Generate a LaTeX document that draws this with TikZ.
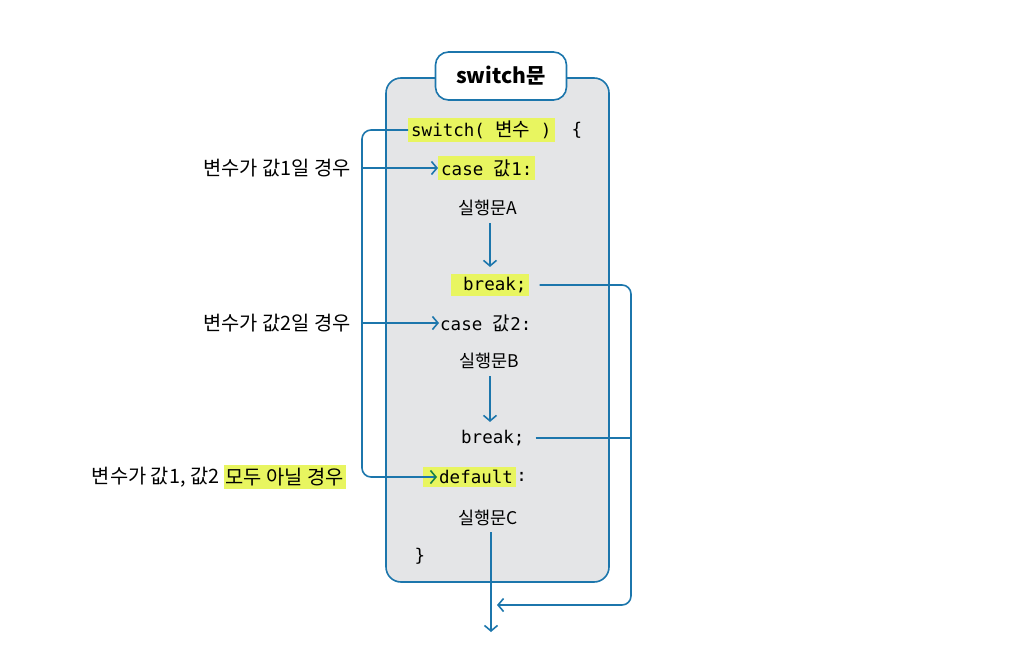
\documentclass[tikz,border=0pt]{standalone}
\usepackage{fontspec}
\setmonofont{DejaVu Sans Mono}
\newfontfamily\kr{Noto Sans CJK KR}
\usetikzlibrary{arrows.meta,positioning}
\definecolor{SwitchBlue}{RGB}{28,118,172}
\definecolor{SwitchPanel}{RGB}{228,229,231}
\definecolor{SwitchMark}{RGB}{232,245,96}
\definecolor{SwitchGreen}{RGB}{24,128,70}
\newcommand\krc[1]{{\fontsize{19}{20}\selectfont\kr #1}}

\begin{document}
\begin{tikzpicture}[x=1pt,y=-1pt,
  conn/.style={SwitchBlue,line width=1.6pt,rounded corners=9pt},
  tip/.style={-{Straight Barb[length=5.5pt,width=13pt,line width=1.6pt]}},
  code/.style={font=\fontsize{17.5}{20}\selectfont\ttfamily,inner sep=1pt},
  txt/.style={font=\fontsize{19.8}{22}\selectfont\kr,inner sep=1pt},
  run/.style={font=\fontsize{17.5}{20}\selectfont\kr,inner sep=1pt},
  hl/.style={fill=SwitchMark,inner xsep=3pt,inner ysep=3pt},
  panel/.style={draw=SwitchBlue,fill=SwitchPanel,line width=1.6pt,rounded corners=15pt},
  tab/.style={draw=SwitchBlue,fill=white,line width=1.6pt,rounded corners=13pt,
    minimum width=131pt,minimum height=48pt,font=\fontsize{21}{24}\selectfont\kr\bfseries}]
\useasboundingbox (0,0) rectangle (1020,653);
% frame and title
\node[panel,minimum width=223pt,minimum height=504pt] (frame) at (497.5,330) {};
\node[tab] (title) at (501,76) {switch문};
% code lines
\node[code,hl,anchor=west] (sw) at (408,130) {switch( \krc{변수} )};
\node[code] (brace) at (577,130) {\{};
\node[code,hl,anchor=west] (c1) at (438,168) {case \krc{값}1:};
\node[run] (runA) at (488,208) {실행문A};
\node[code,hl,anchor=west] (b1) at (451,285) {\hspace*{9pt}break;};
\node[code,anchor=west] (c2) at (439,323) {case \krc{값}2:};
\node[run] (runB) at (489,361) {실행문B};
\node[code,anchor=west] (b2) at (460,438) {break;};
\node[code,hl,anchor=west] (dflt) at (423,477) {\hspace*{13pt}default};
\node[code,anchor=west,inner xsep=0pt] (colon) at (dflt.east) {:};
\node[run] (runC) at (488,518) {실행문C};
\node[code] (close) at (420,556) {\}};
% labels
\node[txt,anchor=east] (lbl1) at (352,168) {변수가 값1일 경우};
\node[txt,anchor=east] (lbl2) at (352,323) {변수가 값2일 경우};
\node[txt,hl,anchor=east,inner xsep=2pt] (lbl3b) at (346,477) {모두 아닐 경우};
\node[txt,left=3pt of lbl3b] (lbl3a) {변수가 값1, 값2};
% connectors
\coordinate (bus) at (362,0);
\coordinate (rbus) at (631,0);
\coordinate (exit) at (497,605);
\coordinate (out) at (491,632);
\draw[conn,-{Straight Barb[length=5.5pt,width=13pt,line width=1.6pt,color=SwitchGreen]}]
  (sw.west) -- (bus |- sw.west) -- (bus |- dflt.west) -- ([xshift=14pt]dflt.west);
\draw[conn,tip] (bus |- c1.west) -- (c1.west);
\draw[conn,tip] (bus |- c2.west) -- (c2.west);
\draw[conn,tip,shorten <=6pt,shorten >=7pt] (runA.south -| 490,0) -- (b1.north -| 490,0);
\draw[conn,tip,shorten <=6pt,shorten >=7pt] (runB.south -| 490,0) -- (b2.north -| 490,0);
\draw[conn,tip] ([xshift=10pt]b1.east) -- (rbus |- b1.east) -- (rbus |- exit) -- (exit);
\draw[conn] ([xshift=10pt]b2.east) -- (rbus |- b2.east);
\draw[conn,tip,shorten <=5pt] (out |- runC.south) -- (out);
\end{tikzpicture}
\end{document}
